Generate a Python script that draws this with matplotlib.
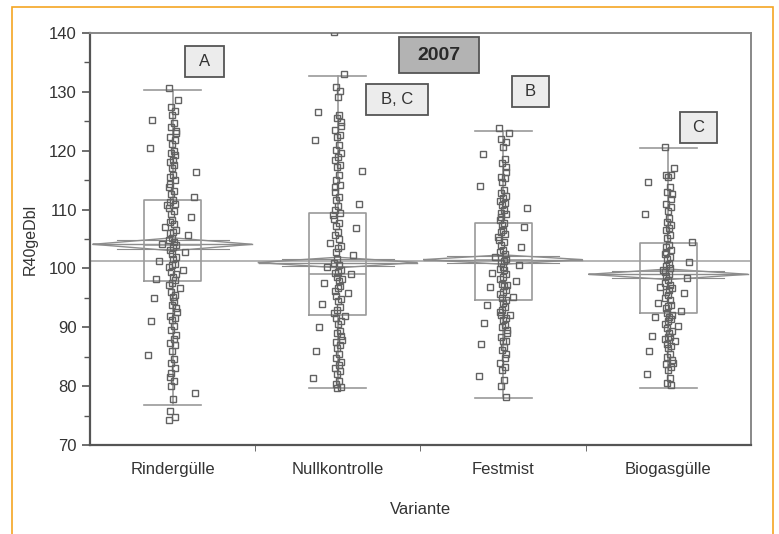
import numpy as np
import matplotlib
matplotlib.use("Agg")
import matplotlib.pyplot as plt
from matplotlib.patches import Rectangle

# -----------------------------
# Data
# -----------------------------
categories = ["Rindergülle", "Nullkontrolle", "Festmist", "Biogasgülle"]

rinder = [130.6, 128.6, 127.5, 126.8, 126.0, 125.2, 124.7, 124.0, 123.3, 123.0,
          122.4, 121.8, 121.2, 120.5, 120.0, 119.6, 119.2, 118.4, 118.0, 117.6,
          117.0, 116.4, 115.9, 115.5, 115.0, 114.4, 113.8, 113.2, 112.7, 112.2,
          111.7, 111.3, 111.0, 110.8, 110.3, 109.8, 109.2, 108.7, 108.2, 107.9,
          107.5, 107.0, 106.6, 106.2, 106.0, 105.6, 105.2, 104.8, 104.5, 104.2,
          104.0, 103.6, 103.2, 102.8, 102.4, 102.0, 101.6, 101.2, 100.8, 100.6,
          100.2, 99.8, 99.4, 99.0, 98.6, 98.2, 98.0, 97.6, 97.2, 96.6,
          96.0, 95.5, 95.2, 95.0, 94.4, 93.8, 93.2, 92.6, 92.0, 91.5,
          91.2, 91.0, 90.2, 89.5, 88.7, 88.0, 87.4, 87.0, 86.0, 85.3,
          84.6, 83.9, 83.0, 82.2, 81.6, 80.8, 80.0, 78.9, 77.8, 75.7,
          74.8, 74.3]

nullkontrolle = [140.2, 133.0, 130.8, 130.2, 129.1, 126.6, 126.0, 125.5, 124.8, 124.2,
                 123.5, 122.7, 122.3, 121.8, 121.0, 120.2, 119.6, 119.0, 118.4, 117.6,
                 117.3, 116.5, 115.8, 115.0, 114.2, 113.8, 113.0, 112.2, 111.6, 111.0,
                 110.6, 109.9, 109.5, 109.0, 108.4, 107.8, 107.2, 106.8, 106.2, 105.7,
                 105.0, 104.4, 103.8, 103.4, 102.8, 102.2, 101.6, 101.0, 100.6, 100.2,
                 99.8, 99.4, 99.2, 99.0, 98.6, 98.2, 97.8, 97.5, 97.0, 96.6,
                 96.2, 95.8, 95.3, 94.8, 94.4, 94.0, 93.5, 92.9, 92.5, 92.0,
                 91.5, 91.0, 90.5, 90.0, 89.4, 89.0, 88.5, 87.8, 87.5, 87.0,
                 86.5, 86.0, 85.4, 84.8, 84.1, 83.6, 83.0, 82.5, 82.0, 81.4,
                 80.8, 80.3, 79.9, 79.6]

festmist = [123.8, 123.0, 122.0, 121.4, 120.6, 119.5, 118.6, 117.9, 117.2, 116.4,
            115.6, 115.3, 114.6, 114.0, 113.4, 112.8, 112.3, 111.9, 111.5, 111.2,
            110.8, 110.3, 109.9, 109.4, 109.2, 108.7, 108.3, 107.8, 107.4, 107.0,
            106.6, 106.2, 105.8, 105.4, 104.8, 104.5, 104.0, 103.6, 103.1, 102.8,
            102.4, 102.0, 101.6, 101.3, 101.0, 100.6, 100.2, 99.9, 99.7, 99.3,
            99.0, 98.6, 98.2, 97.8, 97.4, 97.2, 97.0, 96.8, 96.4, 96.0,
            95.6, 95.2, 95.0, 94.6, 94.2, 93.8, 93.4, 93.0, 92.6, 92.1,
            92.1, 91.6, 91.2, 90.8, 90.4, 90.0, 89.5, 89.0, 88.4, 87.6,
            87.6, 87.2, 86.6, 86.1, 85.4, 84.8, 83.9, 83.2, 82.7, 81.8,
            81.0, 80.0, 78.2]

biogas = [120.7, 117.0, 115.9, 115.8, 115.6, 114.6, 113.8, 113.0, 112.6, 111.8,
          111.0, 110.4, 109.8, 109.2, 108.6, 107.9, 107.4, 106.9, 106.5, 105.7,
          105.2, 104.5, 104.0, 103.6, 103.2, 102.8, 102.4, 102.0, 101.6, 101.1,
          100.8, 100.4, 100.0, 99.7, 99.4, 99.0, 98.7, 98.4, 98.0, 97.6,
          97.2, 96.9, 96.6, 96.3, 96.0, 95.8, 95.4, 95.0, 94.6, 94.1,
          93.8, 93.6, 93.2, 92.8, 92.5, 92.1, 91.8, 91.8, 91.4, 91.0,
          90.6, 90.2, 89.8, 89.4, 89.0, 88.6, 88.4, 88.4, 88.0, 87.7,
          87.2, 86.8, 86.5, 86.0, 85.5, 85.0, 84.5, 83.9, 83.7, 83.2,
          82.7, 82.0, 81.3, 80.6, 80.2]

# box / whisker summary per group
q1 = [97.8, 92.1, 94.6, 92.5]
median = [104.0, 99.0, 101.5, 99.5]
q3 = [111.7, 109.4, 107.7, 104.3]
whisker_low = [76.8, 79.6, 78.0, 79.6]
whisker_high = [130.4, 132.7, 123.3, 120.5]

# means diamonds (mean and 95% interval half-width)
means = [104.1, 101.0, 101.5, 99.0]
ci_half = [1.1, 0.9, 0.8, 0.9]
grand_mean = 101.3

letters = ["A", "B, C", "B", "C"]
year = "2007"

groups = [rinder, nullkontrolle, festmist, biogas]

# -----------------------------
# Figure
# -----------------------------
plt.rcParams["font.family"] = ["Liberation Sans", "DejaVu Sans"]

fig = plt.figure(figsize=(7.79, 5.34), dpi=100)
ax = fig.add_axes([0.1155, 0.1667, 0.8485, 0.7715])

# orange frame around the whole figure
fig.patches.append(Rectangle((0.0154, -0.02), 0.9769, 1.0069,
                             transform=fig.transFigure, fill=False,
                             edgecolor="#f5a623", linewidth=1.2, clip_on=False))

# grand mean line
ax.axhline(grand_mean, color="#a8a8a8", linewidth=1.2, zorder=1)

# means diamonds
half = 0.48
for i, (m, c) in enumerate(zip(means, ci_half)):
    xs = [i - half, i, i + half, i, i - half]
    ys = [m, m + c, m, m - c, m]
    ax.plot(xs, ys, color="#8c8c8c", linewidth=1.0, zorder=2)
    ax.plot([i - half, i + half], [m, m], color="#8c8c8c", linewidth=1.0, zorder=2)
    inner = half * (1 - 1 / np.sqrt(2))
    for s in (1, -1):
        ax.plot([i - half + inner, i + half - inner],
                [m + s * c / np.sqrt(2)] * 2, color="#8c8c8c", linewidth=0.8, zorder=2)

# boxes and whiskers
stats = []
for i in range(len(categories)):
    stats.append({"med": median[i], "q1": q1[i], "q3": q3[i],
                  "whislo": whisker_low[i], "whishi": whisker_high[i],
                  "fliers": []})
line_kw = {"color": "#9a9a9a", "linewidth": 1.2}
ax.bxp(stats, positions=range(len(categories)), widths=0.345,
       capwidths=0.345, showfliers=False,
       boxprops=line_kw, whiskerprops=line_kw, capprops=line_kw,
       medianprops=line_kw, manage_ticks=False, zorder=3)

# jittered points
for i, vals in enumerate(groups):
    n = len(vals)
    idx = np.arange(n)
    u = (idx * 0.6180339887) % 1.0 - 0.5
    width = np.where(idx % 4 == 1, 0.3, 0.045)
    ax.plot(i + u * width, vals, linestyle="none", marker="s", markersize=4.3,
            markerfacecolor="none", markeredgecolor="#626262",
            markeredgewidth=1.0, zorder=4)

# letter boxes
letter_boxes = [(0.075, 0.311, 132.5, 137.8),
                (1.170, 1.545, 126.1, 131.3),
                (2.054, 2.278, 127.4, 132.7),
                (3.070, 3.294, 121.3, 126.6)]
for txt, (x0, x1, y0, y1) in zip(letters, letter_boxes):
    ax.add_patch(Rectangle((x0, y0), x1 - x0, y1 - y0, facecolor="#ececec",
                           edgecolor="#555555", linewidth=1.3, zorder=5))
    ax.text((x0 + x1) / 2, (y0 + y1) / 2, txt, ha="center", va="center",
            fontsize=12, color="#333333", zorder=6)

ax.add_patch(Rectangle((1.370, 133.2), 0.484, 6.1, facecolor="#b3b3b3",
                       edgecolor="#555555", linewidth=1.3, zorder=5))
ax.text(1.612, 136.25, year, ha="center", va="center", fontsize=14,
        fontweight="bold", color="#2a2a2a", zorder=6)

# axes styling
ax.set_xlim(-0.5, 3.5)
ax.set_ylim(70, 140)
ax.set_yticks(np.arange(70, 141, 10))
ax.set_yticks(np.arange(75, 140, 10), minor=True)
ax.set_xticks(range(len(categories)))
ax.set_xticklabels(categories)
ax.set_xticks([0.5, 1.5, 2.5], minor=True)
ax.tick_params(axis="x", which="major", length=0, pad=12, labelsize=12,
               labelcolor="#333333")
ax.tick_params(axis="x", which="minor", length=4, color="#555555")
ax.tick_params(axis="y", which="major", length=6, width=1.2, color="#555555",
               labelsize=12, labelcolor="#333333")
ax.tick_params(axis="y", which="minor", length=4, width=1.0, color="#555555")

for side in ("left", "bottom"):
    ax.spines[side].set_color("#555555")
    ax.spines[side].set_linewidth(1.6)
for side in ("top", "right"):
    ax.spines[side].set_color("#888888")
    ax.spines[side].set_linewidth(1.4)

ax.set_ylabel("R40geDbl", fontsize=11.5, color="#333333", labelpad=8)
ax.set_xlabel("Variante", fontsize=12, color="#333333", labelpad=18)

fig.savefig("out.png", dpi=100)
